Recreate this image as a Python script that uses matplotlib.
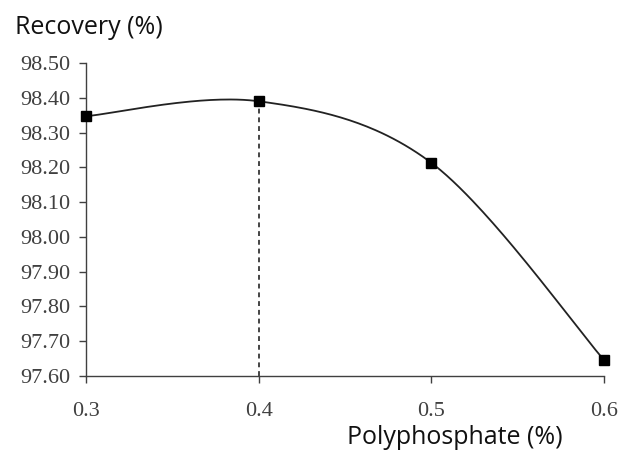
import numpy as np
import matplotlib
matplotlib.use("Agg")
import matplotlib.pyplot as plt

polyphosphate = [0.3, 0.4, 0.5, 0.6]
recovery = [98.347, 98.39, 98.213, 97.646]
x_ticks = [0.3, 0.4, 0.5, 0.6]
y_ticks = [97.6, 97.7, 97.8, 97.9, 98.0, 98.1, 98.2, 98.3, 98.4, 98.5]
optimum_x = 0.4


def smooth_curve(xs, ys, n=60):
    # Excel-style smoothed line: cubic Bezier with Catmull-Rom control points
    pts = np.column_stack([xs, ys])
    ext = np.vstack([pts[0], pts, pts[-1]])
    out = []
    t = np.linspace(0, 1, n)[:, None]
    for i in range(len(pts) - 1):
        p0, p1 = ext[i + 1], ext[i + 2]
        c1 = p0 + (ext[i + 2] - ext[i]) / 6
        c2 = p1 - (ext[i + 3] - ext[i + 1]) / 6
        seg = ((1 - t) ** 3) * p0 + 3 * ((1 - t) ** 2) * t * c1 + 3 * (1 - t) * t ** 2 * c2 + t ** 3 * p1
        out.append(seg)
    out = np.vstack(out)
    return out[:, 0], out[:, 1]


fig = plt.figure(figsize=(6.36, 4.5), dpi=100)
ax = fig.add_axes([0.1352, 0.1644, 0.8145, 0.6956])

sx, sy = smooth_curve(polyphosphate, recovery)
ax.plot(sx, sy, color="#222222", lw=1.3, zorder=2, clip_on=False)
ax.plot(polyphosphate, recovery, ls="none", marker="s", ms=6.5, color="black",
        zorder=3, clip_on=False)

opt_y = recovery[polyphosphate.index(optimum_x)]
ax.plot([optimum_x, optimum_x], [y_ticks[0], opt_y], color="#444444", lw=1.4,
        ls=(0, (2.5, 2)), zorder=1)

ax.set_xlim(x_ticks[0], x_ticks[-1])
ax.set_ylim(y_ticks[0], y_ticks[-1])
ax.set_xticks(x_ticks)
ax.set_xticklabels([f"{v:.1f}" for v in x_ticks])
ax.set_yticks(y_ticks)
ax.set_yticklabels([f"{v:.2f}" for v in y_ticks])

for side in ("top", "right"):
    ax.spines[side].set_visible(False)
for side in ("left", "bottom"):
    ax.spines[side].set_color("#404040")
    ax.spines[side].set_linewidth(1.0)

ax.tick_params(axis="both", direction="out", length=5, width=1.0, color="#404040",
               labelcolor="#404040", labelsize=16)
ax.tick_params(axis="x", pad=14)
ax.tick_params(axis="y", pad=6)
for lab in ax.get_xticklabels() + ax.get_yticklabels():
    lab.set_family("Liberation Serif")

fig.text(0.024, 0.94, "Recovery (%)", fontsize=18, family="Open Sans", color="#111111",
         ha="left", va="center")
fig.text(0.546, 0.028, "Polyphosphate (%)", fontsize=18, family="Open Sans", color="#111111",
         ha="left", va="center")

fig.savefig("out.png", dpi=100)
